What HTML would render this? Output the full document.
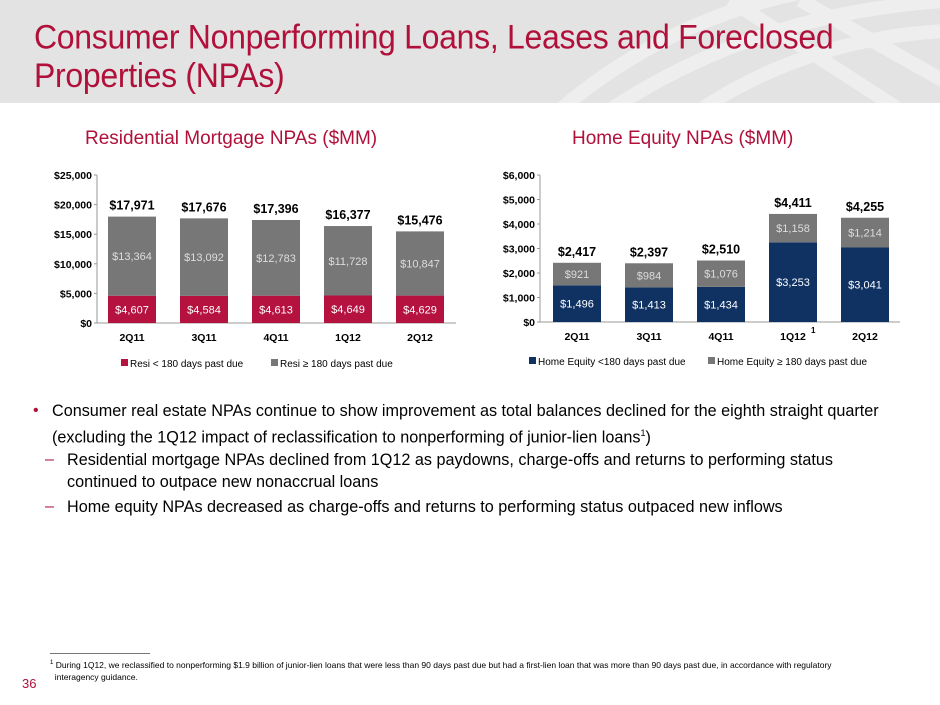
<!DOCTYPE html>
<html><head><meta charset="utf-8">
<style>
body{margin:0;width:940px;height:705px;position:relative;background:#fff;font-family:"Liberation Sans",Arial,sans-serif;overflow:hidden}
#hdr{position:absolute;left:0;top:0;width:940px;height:103px;background:#e3e3e3;overflow:hidden}
#title{position:absolute;left:34px;top:17px;font-size:32px;line-height:36px;color:#b0103a;letter-spacing:-0.3px;transform:scaleY(1.08);transform-origin:0 0}
.sub{position:absolute;top:128px;font-size:19px;color:#b0103a}
.bl{position:absolute;font-size:16.2px;line-height:22px;color:#000}
.mk{position:absolute;color:#b0103a;font-size:16px;line-height:22px}
#fn{position:absolute;left:50px;top:657px;font-size:8.5px;line-height:12px;color:#000;width:870px}
#fnline{position:absolute;left:50px;top:653px;width:100px;border-top:1px solid #777}
#pg{position:absolute;left:22px;top:676px;font-size:13px;color:#b0103a}
svg text{font-family:"Liberation Sans",Arial,sans-serif}
</style></head><body>
<div id="hdr">
<svg width="940" height="103" style="position:absolute;left:0;top:0">
<g fill="none" stroke="#eeeeee" stroke-width="14">
<path d="M560 110 Q700 -10 900 -20"/><path d="M610 110 Q760 10 960 0"/><path d="M700 110 Q820 30 980 30"/>
<path d="M730 0 L900 110"/><path d="M800 0 L960 90"/>
</g></svg>
<div id="title">Consumer Nonperforming Loans, Leases and Foreclosed<br>Properties (NPAs)</div>
</div>
<div class="sub" style="left:85px">Residential Mortgage NPAs ($MM)</div>
<div class="sub" style="left:572px">Home Equity NPAs ($MM)</div>
<svg id="c1" width="470" height="250" style="position:absolute;left:0;top:140px"></svg>
<svg id="c2" width="470" height="250" style="position:absolute;left:470px;top:140px"></svg>

<div class="mk" style="left:33px;top:400px">•</div>
<div class="bl" style="left:52px;top:400px;width:840px">Consumer real estate NPAs continue to show improvement as total balances declined for the eighth straight quarter (excluding the 1Q12 impact of reclassification to nonperforming of junior-lien loans<sup style="font-size:9px">1</sup>)</div>
<div class="mk" style="left:45px;top:449px">–</div>
<div class="bl" style="left:67px;top:449px;width:785px">Residential mortgage NPAs declined from 1Q12 as paydowns, charge-offs and returns to performing status continued to outpace new nonaccrual loans</div>
<div class="mk" style="left:45px;top:496px">–</div>
<div class="bl" style="left:67px;top:496px;width:820px">Home equity NPAs decreased as charge-offs and returns to performing status outpaced new inflows</div>

<div id="fnline"></div>
<div id="fn"><sup style="font-size:6px">1</sup> During 1Q12, we reclassified to nonperforming $1.9 billion of junior-lien loans that were less than 90 days past due but had a first-lien loan that was more than 90 days past due, in accordance with regulatory<br>&nbsp;&nbsp;interagency guidance.</div>
<div id="pg">36</div>
<script>
const categories=["2Q11","3Q11","4Q11","1Q12","2Q12"];
const resiLow=[4607,4584,4613,4649,4629];
const resiHigh=[13364,13092,12783,11728,10847];
const resiTotals=[17971,17676,17396,16377,15476];
const resiTicks=[0,5000,10000,15000,20000,25000];
const heLow=[1496,1413,1434,3253,3041];
const heHigh=[921,984,1076,1158,1214];
const heTotals=[2417,2397,2510,4411,4255];
const heTicks=[0,1000,2000,3000,4000,5000,6000];
const NS="http://www.w3.org/2000/svg";
function fmt(v){return "$"+v.toLocaleString("en-US");}
function mk(p,tag,a,txt){const e=document.createElementNS(NS,tag);for(const k in a)e.setAttribute(k,a[k]);if(txt!==undefined)e.textContent=txt;p.appendChild(e);return e;}
function chart(svg,cfg){
 const x0=cfg.axisX,yBase=cfg.y0,yTop=cfg.yTop,max=cfg.ticks[cfg.ticks.length-1];
 const y=v=>yBase-(v/max)*(yBase-yTop);
 const xc=i=>cfg.c0+i*72;
 cfg.ticks.forEach(t=>{
  const tl=mk(svg,"text",{x:x0-5,y:y(t)+4,"text-anchor":"end","font-size":"10.5","font-weight":"bold",fill:"#000"},fmt(t));
  
  
  mk(svg,"line",{x1:x0-3,x2:x0,y1:y(t),y2:y(t),stroke:"#999"});
 });
 const ax=mk(svg,"line",{x1:x0,x2:x0,y1:yTop,y2:yBase,stroke:"#999"});
 
 
 const xa=mk(svg,"line",{x1:x0,x2:cfg.axisEnd,y1:yBase,y2:yBase,stroke:"#999"});
 
 
 categories.forEach((c,i)=>{
  const cx=xc(i),lo=cfg.low[i],hi=cfg.high[i];
  const b1=mk(svg,"rect",{x:cx-24,width:48,y:y(lo),height:yBase-y(lo),fill:cfg.lowColor});
  
  
  const b2=mk(svg,"rect",{x:cx-24,width:48,y:y(lo+hi),height:y(lo)-y(lo+hi),fill:"#777777"});
  
  
  const t1=mk(svg,"text",{x:cx,y:(y(lo)+yBase)/2+4,"text-anchor":"middle","font-size":"11",fill:"#fff"},fmt(lo));
  
  
  const t2=mk(svg,"text",{x:cx,y:(y(lo)+y(lo+hi))/2+4,"text-anchor":"middle","font-size":"11",fill:"#ddd"},fmt(hi));
  
  
  const t3=mk(svg,"text",{x:cx,y:y(cfg.totals[i])-7,"text-anchor":"middle","font-size":"12.5","font-weight":"bold",fill:"#000"},fmt(cfg.totals[i]));
  
  
  const xl=mk(svg,"text",{x:cx,y:yBase+18,"text-anchor":"middle","font-size":"10.5","font-weight":"bold",fill:"#000"},c);
  
  
 });
 cfg.legend.forEach((l,k)=>{
  const lx=cfg.legX[k];
  const sw=mk(svg,"rect",{x:lx,y:cfg.legY-8,width:7,height:7,fill:l.color});
  
  
  const lt=mk(svg,"text",{x:lx+9,y:cfg.legY,"font-size":"10",fill:"#000"},l.text);
  
  
 });
}
chart(document.getElementById("c1"),{axisX:97,axisEnd:456,y0:183,yTop:35,c0:132,ticks:resiTicks,low:resiLow,high:resiHigh,totals:resiTotals,lowColor:"#b5123f",
 legend:[{text:"Resi < 180 days past due",color:"#b5123f"},{text:"Resi ≥ 180 days past due",color:"#777"}],legX:[121,271],legY:227});
chart(document.getElementById("c2"),{axisX:70,axisEnd:430,y0:182,yTop:35,c0:107,ticks:heTicks,low:heLow,high:heHigh,totals:heTotals,lowColor:"#0f3263",
 legend:[{text:"Home Equity <180 days past due",color:"#0f3263"},{text:"Home Equity ≥ 180 days past due",color:"#777"}],legX:[59,238],legY:225});
const sup=document.createElementNS(NS,"text");


sup.setAttribute("x","341");sup.setAttribute("y","193");sup.setAttribute("font-size","8");sup.setAttribute("font-weight","bold");sup.textContent="1";
document.getElementById("c2").appendChild(sup);
</script>
</body></html>
